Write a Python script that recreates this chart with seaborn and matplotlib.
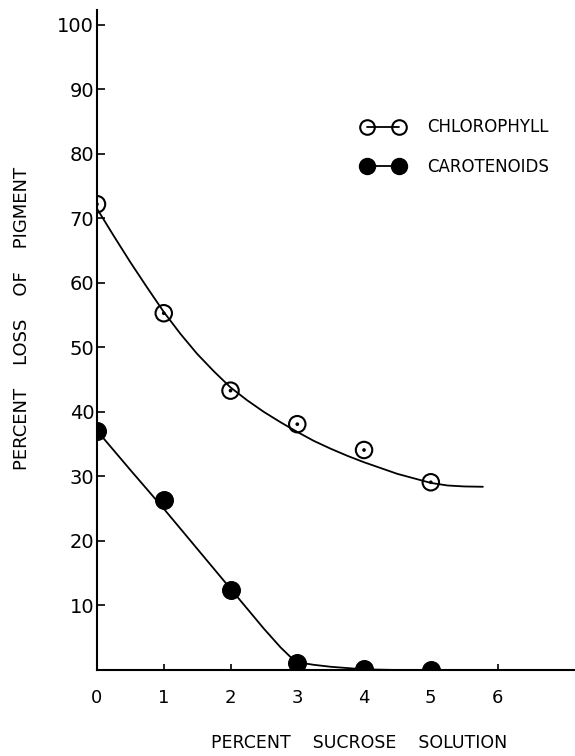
import matplotlib
matplotlib.use("Agg")
import matplotlib.pyplot as plt
from matplotlib.lines import Line2D
import seaborn as sns
import pandas as pd

# -------------------- Data --------------------
sucrose = [0, 1, 2, 3, 4, 5]
chlorophyll = [72.2, 55.3, 43.3, 38.1, 34.1, 29.1]
carotenoids = [37.1, 26.4, 12.4, 1.1, 0.1, 0.0]

# hand-drawn smooth curves
chl_curve_x = [0, 0.25, 0.5, 0.75, 1, 1.25, 1.5, 1.75, 2, 2.25, 2.5, 2.75, 3,
               3.25, 3.5, 3.75, 4, 4.25, 4.5, 4.75, 5, 5.25, 5.5, 5.78]
chl_curve_y = [71.5, 67.3, 63.2, 59.3, 55.5, 52.1, 49.0, 46.3, 43.8, 41.8, 40.0, 38.4, 36.9,
               35.5, 34.3, 33.2, 32.2, 31.3, 30.4, 29.7, 29.0, 28.6, 28.45, 28.4]
car_curve_x = [0, 0.5, 1, 1.5, 2, 2.25, 2.5, 2.75, 2.9, 3, 3.25, 3.5, 4, 4.5, 5]
car_curve_y = [37.1, 31.0, 25.0, 18.8, 12.6, 9.5, 6.4, 3.5, 2.0, 1.2, 0.8, 0.5, 0.1, 0.0, 0.0]

x_ticks = [0, 1, 2, 3, 4, 5, 6]
y_ticks = [10, 20, 30, 40, 50, 60, 70, 80, 90, 100]

pts = pd.DataFrame({"x": sucrose, "chl": chlorophyll, "car": carotenoids})

# -------------------- Plot --------------------
sns.set_style("ticks")
plt.rcParams["font.family"] = ["DejaVu Sans"]
plt.rcParams["text.color"] = "black"
plt.rcParams["xtick.color"] = "black"
plt.rcParams["ytick.color"] = "black"
plt.rcParams["axes.edgecolor"] = "black"

fig = plt.figure(figsize=(5.75, 7.56), dpi=100)
ax = fig.add_axes([97 / 575, 86 / 756, 478 / 575, 660 / 756])

lw = 1.3
sns.lineplot(x=chl_curve_x, y=chl_curve_y, ax=ax, color="black", lw=lw, sort=False)
sns.lineplot(x=car_curve_x, y=car_curve_y, ax=ax, color="black", lw=lw, sort=False)

# chlorophyll: open circle with centre dot
sns.scatterplot(data=pts, x="x", y="chl", ax=ax, s=140, marker="o",
                facecolor="none", edgecolor="black", linewidth=1.5, zorder=3)
sns.scatterplot(data=pts, x="x", y="chl", ax=ax, s=7, color="black",
                edgecolor="none", zorder=4)
# carotenoids: filled circle
sns.scatterplot(data=pts, x="x", y="car", ax=ax, s=160, color="black",
                edgecolor="black", zorder=3)

ax.set_xlim(0, 7.16)
ax.set_ylim(0, 102.3)
ax.set_xticks(x_ticks)
ax.set_yticks(y_ticks)
ax.set_xticklabels([str(t) for t in x_ticks], fontsize=13)
ax.set_yticklabels([str(t) for t in y_ticks], fontsize=14)
ax.tick_params(axis="y", direction="in", length=6, width=1.2, pad=2)
ax.tick_params(axis="x", direction="in", length=4, width=1.2, pad=14)
ax.set_xlabel("")
ax.set_ylabel("")
sns.despine(ax=ax)
for sp in ("left", "bottom"):
    ax.spines[sp].set_linewidth(1.5)

fig.text(359 / 575, 1 - 743 / 756, "PERCENT    SUCROSE    SOLUTION",
         ha="center", va="center", fontsize=12.5)
fig.text(22 / 575, 1 - 318 / 756, "PERCENT    LOSS    OF    PIGMENT",
         ha="center", va="center", rotation=90, fontsize=13)

handles = [
    Line2D([0], [0], color="black", lw=lw, marker="o", markersize=10.5,
           markerfacecolor="none", markeredgecolor="black", markeredgewidth=1.5),
    Line2D([0], [0], color="black", lw=lw, marker="o", markersize=11.5,
           markerfacecolor="black", markeredgecolor="black"),
]
ax.legend(handles, ["CHLOROPHYLL", "CAROTENOIDS"], numpoints=2,
          loc="upper left", bbox_to_anchor=(354 / 575, 1 - 110 / 756),
          bbox_transform=fig.transFigure, frameon=False, borderpad=0,
          handlelength=2.5, handletextpad=1.4, labelspacing=1.3, fontsize=12)

fig.savefig("out.png", dpi=100)
